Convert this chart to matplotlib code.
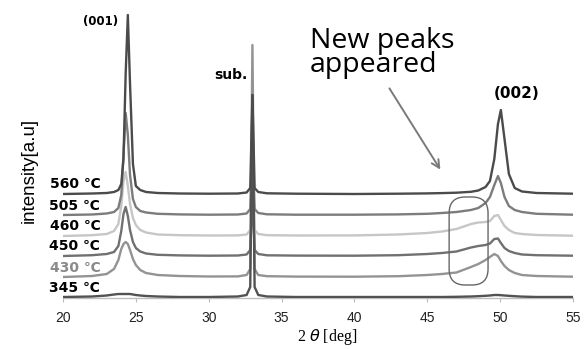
import numpy as np
import matplotlib.pyplot as plt
from matplotlib.patches import FancyBboxPatch

# 2theta sampling points (deg)
two_theta = [20, 22, 23, 23.5, 23.8, 24.0, 24.15, 24.3, 24.45, 24.6, 24.8, 25.0, 25.3, 25.7,
             26.5, 28, 30, 32, 32.6, 32.85, 33.0, 33.15, 33.4, 34, 36, 40, 43, 45, 46, 47,
             48, 48.5, 49.0, 49.3, 49.6, 49.85, 50.05, 50.3, 50.6, 51.0, 51.5, 52.5, 55]

# intensity above each trace's own baseline (a.u.)
i_560 = [0, 0.5, 1, 2, 4, 10, 35, 120, 179, 110, 30, 8, 4, 2,
         1, 0.5, 0.3, 0.5, 1.5, 6, 99, 6, 2, 0.7, 0.3, 0, 0.3, 0.6, 0.9, 1.3,
         2.2, 3.5, 7, 13, 35, 70, 84, 55, 20, 6, 2.5, 1, 0.3]
i_505 = [0, 0.5, 1.5, 3, 7, 20, 60, 102, 80, 40, 16, 8, 4, 2.5,
         1.2, 0.6, 0.3, 0.5, 1.5, 6, 70, 6, 2, 0.7, 0.3, 0.3, 0.6, 1.2, 2, 3,
         5, 7, 12, 18, 30, 39, 32, 18, 9, 5, 3, 1.2, 0.3]
i_460 = [0, 0.8, 2, 5, 12, 30, 55, 64, 50, 32, 18, 11, 6, 3.5,
         1.5, 0.8, 0.5, 0.6, 1.5, 6, 60, 6, 2, 0.8, 0.5, 0.6, 1.5, 3, 4.5, 7,
         12, 13.5, 14, 15, 20, 21, 16, 10, 6, 3, 2, 1, 0.3]
i_450 = [0, 0.8, 2, 4, 10, 25, 42, 49, 40, 26, 14, 8, 4.5, 2.5,
         1.2, 0.6, 0.3, 0.5, 1.5, 6, 60, 6, 2, 0.7, 0.4, 0.3, 0.8, 2, 3, 4.5,
         8.5, 10, 11, 12.5, 17, 17.5, 13, 8, 5, 3, 1.5, 0.8, 0.3]
i_430 = [0, 1, 3, 8, 17, 28, 33, 35, 33, 27, 18, 12, 7, 4,
         2, 1, 0.5, 0.6, 2, 8, 232, 8, 2, 0.8, 0.4, 0.3, 0.8, 2, 3, 4.5,
         10, 13, 17, 20, 23, 21, 16, 11, 7, 4, 2, 1, 0.3]
i_345 = [0, 0.5, 1.5, 2.5, 3, 3, 3, 3, 3, 3, 2.5, 2, 1.5, 1,
         0.5, 0, 0, 0.5, 2, 10, 202, 10, 2, 0.5, 0, 0, 0, 0, 0, 0.2,
         0.5, 0.8, 1.2, 1.5, 2, 2, 1.8, 1.5, 1.2, 0.8, 0.4, 0, 0]

temps = ['560 ℃', '505 ℃', '460 ℃', '450 ℃', '430 ℃', '345 ℃']
offsets = [104, 83, 62, 42, 21, 1]
traces = [i_560, i_505, i_460, i_450, i_430, i_345]
colors = ['#4b4b4b', '#7c7c7c', '#c6c6c6', '#707070', '#939393', '#525252']
label_colors = ['black', 'black', 'black', 'black', '#8a8a8a', 'black']
zorders = [8, 5, 4, 6, 3, 7]

fig = plt.figure(figsize=(5.87, 3.49), dpi=100)
ax = fig.add_axes([63/587, 51/349, 510/587, 288/349])

x = np.array(two_theta)
for y, off, c, z in zip(traces, offsets, colors, zorders):
    ax.plot(x, np.array(y) + off, color=c, lw=1.7, zorder=z, solid_joinstyle='round')

for t, off, lc in zip(temps, offsets, label_colors):
    ax.text(22.55, off + 9.5, t, ha='right', va='center', fontsize=10,
            fontweight='bold', color=lc, clip_on=False)

ax.set_xlim(20, 55)
ax.set_ylim(0, 288)
ax.set_xticks(range(20, 56, 5))
ax.set_yticks([])
for s in ['top', 'right', 'left']:
    ax.spines[s].set_visible(False)
ax.spines['bottom'].set_color('#bdbdbd')
ax.spines['bottom'].set_linewidth(1.0)
ax.tick_params(axis='x', length=3, color='#bdbdbd', pad=6, labelsize=10,
               labelcolor='#222222')
for lab in ax.get_xticklabels():
    lab.set_fontfamily('Liberation Sans')

ax.set_xlabel('2 $\\theta$ [deg]', fontsize=11.5, fontfamily='Liberation Serif',
              va='center')
ax.xaxis.set_label_coords(0.518, -0.135)
ax.set_ylabel('intensity[a.u]', fontsize=13.5, fontfamily='Liberation Sans')
ax.yaxis.set_label_coords(-0.05, 0.444)

ax.text(23.77, 277, '(001)', ha='right', va='center', fontsize=8.5, fontweight='bold')
ax.text(32.63, 223, 'sub.', ha='right', va='center', fontsize=10, fontweight='bold')
ax.text(51.16, 205, '(002)', ha='center', va='center', fontsize=11, fontweight='bold')
ax.text(36.95, 245, 'New peaks\nappeared', ha='left', va='center', fontsize=20.5,
        fontfamily='Open Sans', linespacing=0.8)

ax.annotate('', xy=(46.0, 126), xytext=(42.3, 212),
            arrowprops=dict(arrowstyle='->', color='#7a7a7a', lw=1.4,
                            mutation_scale=14))

box = FancyBboxPatch((46.5, 13), 2.67, 88,
                     boxstyle='round,pad=0,rounding_size=1.1',
                     mutation_aspect=14.57, fill=False, ec='#666666', lw=1.0,
                     zorder=9)
ax.add_patch(box)

fig.savefig('out.png', dpi=100)
